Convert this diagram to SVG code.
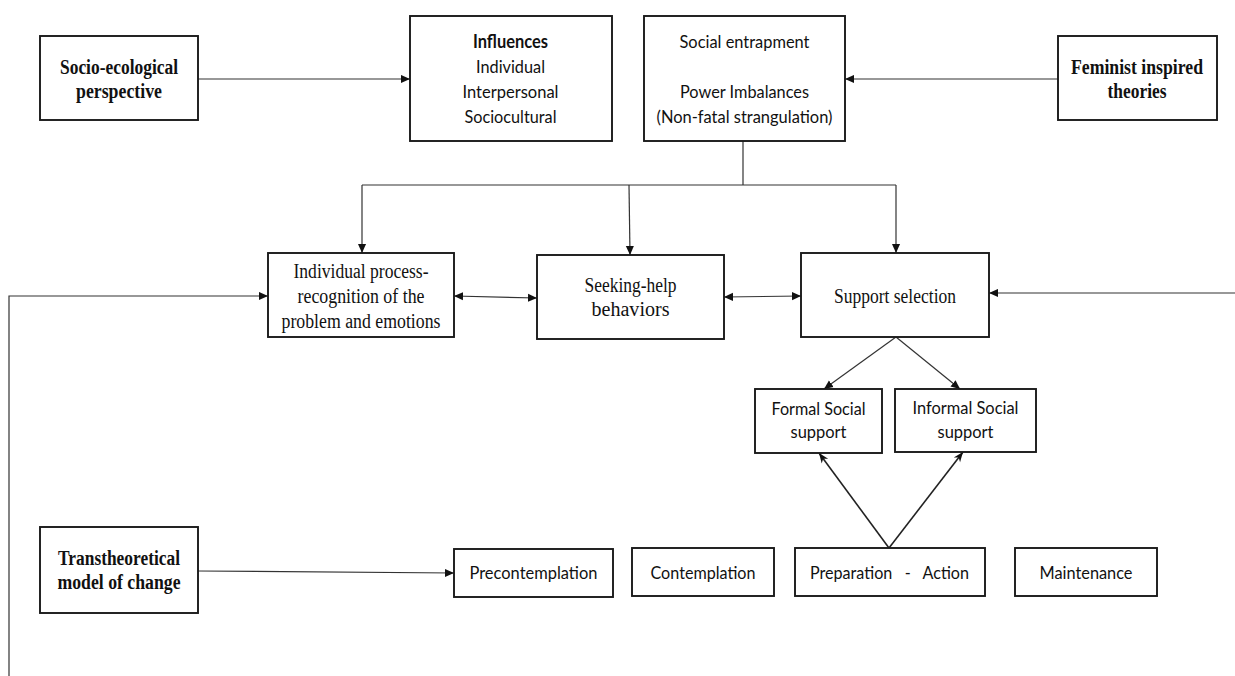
<svg xmlns="http://www.w3.org/2000/svg" width="1235" height="676" viewBox="0 0 1235 676">
<style>
.box{fill:#fff;stroke:#1a1a1a;stroke-width:1.9}
.con{fill:none;stroke:#333;stroke-width:1.2}
.con2{fill:none;stroke:#222;stroke-width:1.6}
.cal{font-family:Lato,"Liberation Sans",sans-serif;font-size:18px;fill:#111;text-anchor:middle}
.tnr{font-family:"Liberation Serif",serif;font-size:20px;fill:#111;text-anchor:middle}
.tnb{font-family:"Liberation Serif",serif;font-size:20px;font-weight:bold;fill:#111;text-anchor:middle}
</style>
<defs>
<marker id="ah" viewBox="0 0 10 10" refX="10" refY="5" markerWidth="9" markerHeight="9" markerUnits="userSpaceOnUse" orient="auto-start-reverse"><path d="M0,0.5 L10,5 L0,9.5 z" fill="#111"/></marker>
<marker id="oh" viewBox="0 0 10 10" refX="10" refY="5" markerWidth="10" markerHeight="10" markerUnits="userSpaceOnUse" orient="auto"><path d="M0,1 L10,5 L0,9 L3,5 z" fill="#111"/></marker>
</defs>
<g id="connectors">
<line class="con" x1="198" y1="79" x2="410" y2="79" marker-end="url(#ah)"/>
<line class="con" x1="1058" y1="79" x2="845" y2="79" marker-end="url(#ah)"/>
<line class="con" x1="743" y1="141" x2="743" y2="185"/>
<line class="con" x1="362" y1="185" x2="896" y2="185"/>
<line class="con" x1="362" y1="185" x2="362" y2="253" marker-end="url(#ah)"/>
<line class="con" x1="629" y1="185" x2="630" y2="255" marker-end="url(#ah)"/>
<line class="con" x1="896" y1="185" x2="896" y2="253" marker-end="url(#ah)"/>
<polyline class="con" points="9,676 9,296 268,296" marker-end="url(#ah)"/>
<line class="con" x1="454" y1="296" x2="537" y2="298" marker-start="url(#ah)" marker-end="url(#ah)"/>
<line class="con" x1="724" y1="297" x2="801" y2="296" marker-start="url(#ah)" marker-end="url(#ah)"/>
<line class="con" x1="1235" y1="293" x2="989" y2="293" marker-end="url(#ah)"/>
<line class="con" x1="896" y1="337" x2="824" y2="389" marker-end="url(#ah)"/>
<line class="con" x1="896" y1="337" x2="960" y2="389" marker-end="url(#ah)"/>
<line class="con" x1="198" y1="571" x2="454" y2="573" marker-end="url(#ah)"/>
<line class="con2" x1="889" y1="548" x2="819" y2="453" marker-end="url(#oh)"/>
<line class="con2" x1="889" y1="548" x2="963" y2="452" marker-end="url(#oh)"/>
</g>
<g id="socio">
<rect class="box" x="40" y="36" width="158" height="84"/>
<text class="tnb" x="119" y="74" textLength="118" lengthAdjust="spacingAndGlyphs">Socio-ecological</text>
<text class="tnb" x="119" y="98" textLength="86" lengthAdjust="spacingAndGlyphs">perspective</text>
</g>
<g id="influences">
<rect class="box" x="410" y="16" width="202" height="125"/>
<text class="cal" x="510.5" y="48" font-weight="bold" textLength="75" lengthAdjust="spacingAndGlyphs">Influences</text>
<text class="cal" x="510.5" y="73" textLength="69" lengthAdjust="spacingAndGlyphs">Individual</text>
<text class="cal" x="510.5" y="98" textLength="96" lengthAdjust="spacingAndGlyphs">Interpersonal</text>
<text class="cal" x="510.5" y="123" textLength="92" lengthAdjust="spacingAndGlyphs">Sociocultural</text>
</g>
<g id="social">
<rect class="box" x="644" y="16" width="201" height="125"/>
<text class="cal" x="744.5" y="48" textLength="130" lengthAdjust="spacingAndGlyphs">Social entrapment</text>
<text class="cal" x="744.5" y="98" textLength="129" lengthAdjust="spacingAndGlyphs">Power Imbalances</text>
<text class="cal" x="744.5" y="123" textLength="176" lengthAdjust="spacingAndGlyphs">(Non-fatal strangulation)</text>
</g>
<g id="feminist">
<rect class="box" x="1058" y="36" width="159" height="84"/>
<text class="tnb" x="1137" y="74" textLength="132" lengthAdjust="spacingAndGlyphs">Feminist inspired</text>
<text class="tnb" x="1137" y="98" textLength="59" lengthAdjust="spacingAndGlyphs">theories</text>
</g>
<g id="individual">
<rect class="box" x="268" y="253" width="186" height="84"/>
<text class="tnr" x="361" y="278" textLength="135" lengthAdjust="spacingAndGlyphs">Individual process-</text>
<text class="tnr" x="361" y="303" textLength="127" lengthAdjust="spacingAndGlyphs">recognition of the</text>
<text class="tnr" x="361" y="328" textLength="159" lengthAdjust="spacingAndGlyphs">problem and emotions</text>
</g>
<g id="seeking">
<rect class="box" x="537" y="255" width="187" height="84"/>
<text class="tnr" x="630.5" y="292" textLength="92" lengthAdjust="spacingAndGlyphs">Seeking-help</text>
<text class="tnr" x="630.5" y="316" textLength="78" lengthAdjust="spacingAndGlyphs">behaviors</text>
</g>
<g id="support">
<rect class="box" x="801" y="253" width="188" height="84"/>
<text class="tnr" x="895" y="303" textLength="122" lengthAdjust="spacingAndGlyphs">Support selection</text>
</g>
<g id="formal">
<rect class="box" x="755" y="389" width="127" height="64"/>
<text class="cal" x="818.5" y="415" textLength="94" lengthAdjust="spacingAndGlyphs">Formal Social</text>
<text class="cal" x="818.5" y="438" textLength="56" lengthAdjust="spacingAndGlyphs">support</text>
</g>
<g id="informal">
<rect class="box" x="895" y="389" width="141" height="63"/>
<text class="cal" x="965.5" y="414" textLength="106" lengthAdjust="spacingAndGlyphs">Informal Social</text>
<text class="cal" x="965.5" y="438" textLength="56" lengthAdjust="spacingAndGlyphs">support</text>
</g>
<g id="transtheoretical">
<rect class="box" x="40" y="527" width="158" height="86"/>
<text class="tnb" x="119" y="565" textLength="122" lengthAdjust="spacingAndGlyphs">Transtheoretical</text>
<text class="tnb" x="119" y="589" textLength="123" lengthAdjust="spacingAndGlyphs">model of change</text>
</g>
<g id="precontemplation">
<rect class="box" x="454" y="549" width="159" height="48"/>
<text class="cal" x="533.5" y="579" textLength="128" lengthAdjust="spacingAndGlyphs">Precontemplation</text>
</g>
<g id="contemplation">
<rect class="box" x="632" y="548" width="142" height="48"/>
<text class="cal" x="703" y="579" textLength="105" lengthAdjust="spacingAndGlyphs">Contemplation</text>
</g>
<g id="preparation">
<rect class="box" x="795" y="548" width="190" height="48"/>
<text class="cal" x="889.5" y="579" xml:space="preserve" textLength="159" lengthAdjust="spacingAndGlyphs">Preparation   -   Action</text>
</g>
<g id="maintenance">
<rect class="box" x="1015" y="548" width="142" height="48"/>
<text class="cal" x="1086" y="579" textLength="93" lengthAdjust="spacingAndGlyphs">Maintenance</text>
</g>
</svg>
